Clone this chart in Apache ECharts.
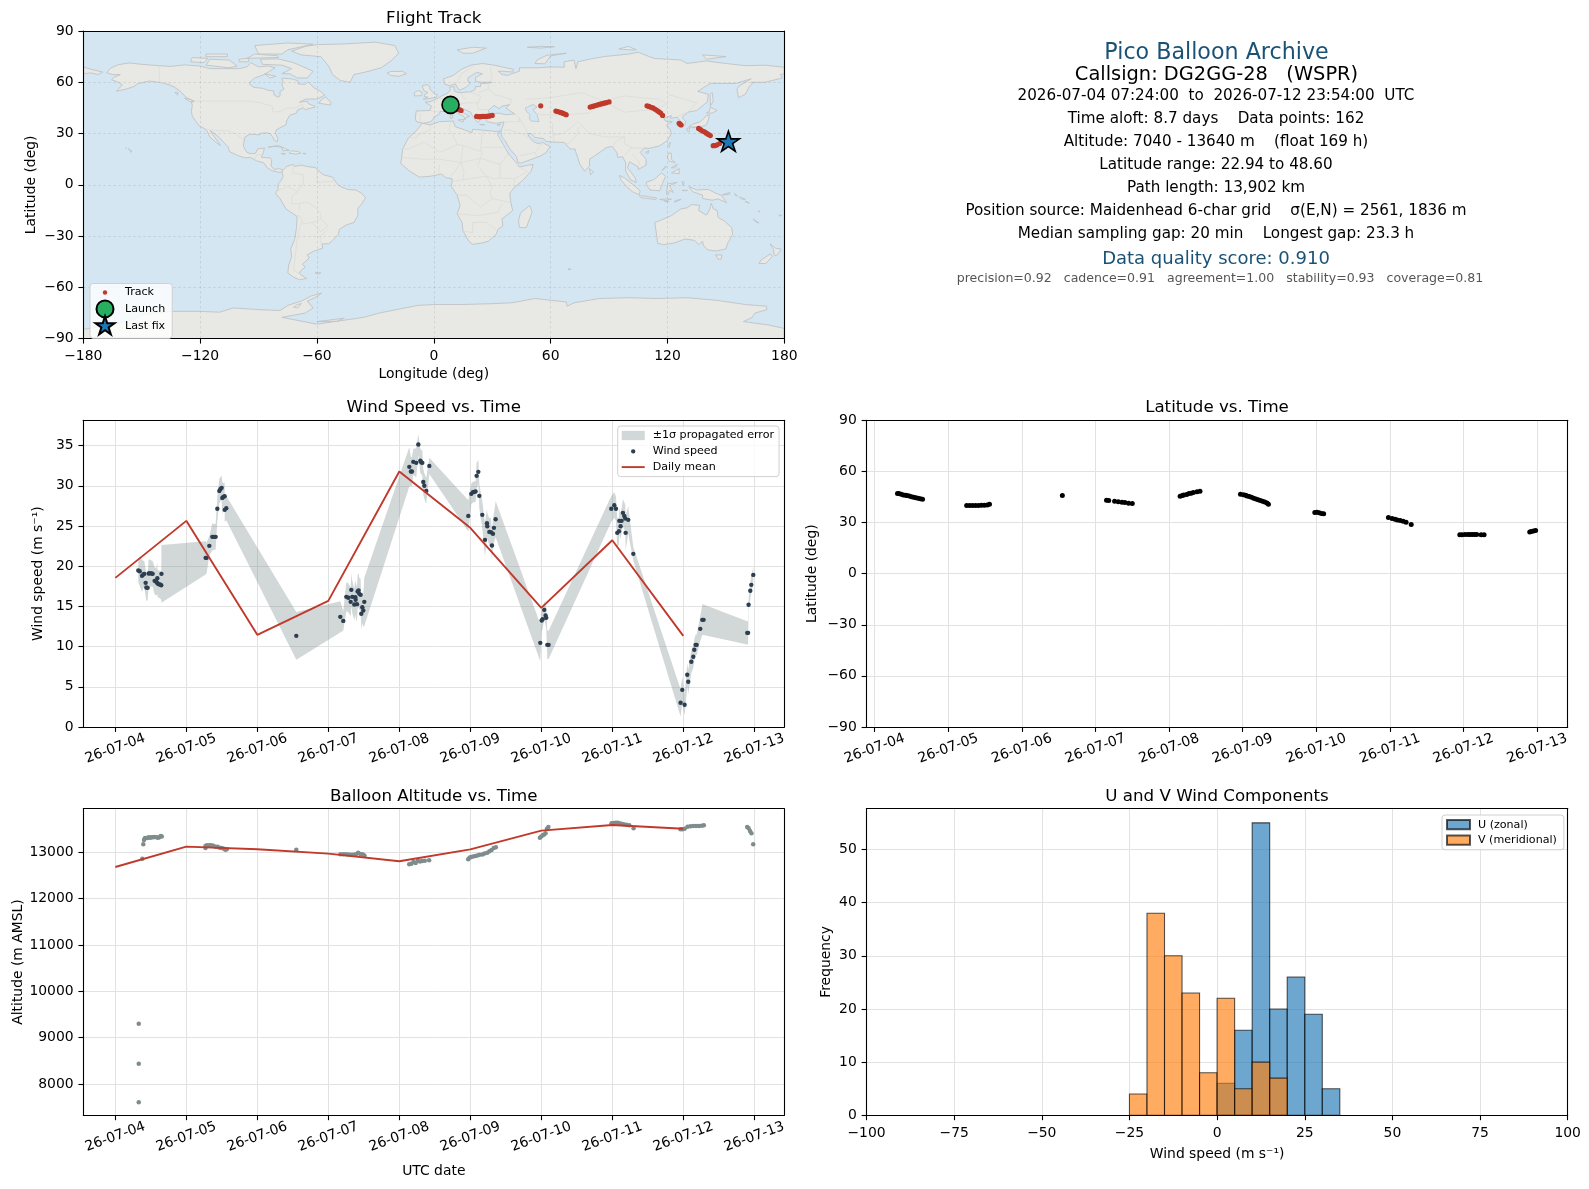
<!DOCTYPE html>
<html><head><meta charset="utf-8"><title>Pico Balloon Archive</title>
<style>html,body{margin:0;padding:0;background:#fff}#c{width:1589px;height:1189px}</style>
<script src="https://cdn.jsdelivr.net/npm/echarts@6/dist/echarts.min.js"></script>
</head><body><div id="c"></div>
<script>
// ---------- tick labels / categories ----------
const dayTickDays=[0,1,2,3,4,5,6,7,8,9];
const dayTickLabels=['26-07-04','26-07-05','26-07-06','26-07-07','26-07-08','26-07-09','26-07-10','26-07-11','26-07-12','26-07-13'];
const lonTicks=[-180,-120,-60,0,60,120,180];
const latTicks=[-90,-60,-30,0,30,60,90];
const windTicks=[0,5,10,15,20,25,30,35];
const altTicks=[8000,9000,10000,11000,12000,13000];
const histXTicks=[-100,-75,-50,-25,0,25,50,75,100];
const histYTicks=[0,10,20,30,40,50];
// ---------- flight track [lon,lat] ----------
const trackLon=[9,10,11,12,13,14,22,23,24,25,26,27,28,29,30,54.9,62.7,63.5,64.5,65.5,66.5,67.5,68,80.3,81.5,82.5,83.5,84.5,85.5,86.5,87.5,88.5,90,109.5,110.5,111.5,112.5,113.5,114.5,115.5,116.5,117.5,126,126.5,127,136,137,138,139,140,141,142,143.5,144.5,145.5,146.8];
const trackLat=[47,46.5,45.6,44.7,44,43.5,40,39.9,39.9,40,40,40,40.2,40.4,40.6,46.2,43.2,42.9,42.6,42.2,41.8,41.3,41,45.5,45.9,46.2,46.5,46.9,47.2,47.5,47.8,48.1,48.5,46.2,45.9,45.4,45,44.3,43.6,42.8,42,40.6,36,35.5,35,33,32.3,31.5,31,30.2,29.5,28.8,22.9,23,23.4,24.2];
const launchPoint=[8.6,46.8];
const lastFixPoint=[151.3,24.9];
// ---------- wind speed: days after 2026-07-04 00:00 UTC, m/s, propagated sigma ----------
const windDays=[.324,.343,.376,.394,.408,.427,.437,.455,.469,.488,.512,.526,.554,.577,.592,.593,.610,.629,.647,.650,
1.272,1.286,1.324,1.366,1.390,1.413,1.437,1.465,1.479,1.498,1.507,1.521,1.540,1.541,1.563,2.549,
3.169,3.211,3.254,3.282,3.315,3.324,3.338,3.366,3.380,3.385,3.404,3.413,3.427,3.437,3.455,3.465,3.479,3.493,3.507,
4.141,4.164,4.178,4.197,4.239,4.268,4.296,4.310,4.324,4.338,4.352,4.380,4.423,
4.972,5.014,5.038,5.056,5.075,5.089,5.113,5.127,5.169,5.207,5.235,5.239,5.268,5.291,5.305,5.319,5.333,5.357,
5.986,6.005,6.019,6.042,6.061,6.070,6.085,6.103,
6.986,7.028,7.052,7.070,7.094,7.099,7.117,7.131,7.150,7.169,7.183,7.188,7.225,7.296,
7.962,7.986,8.019,8.056,8.070,8.113,8.141,8.155,8.174,8.188,8.239,8.268,8.286,
8.901,8.913,8.920,8.944,8.958,8.986];
const windSpeed=[19.47,19.38,18.80,18.97,19.05,17.93,17.35,17.31,19.09,19.13,19.09,19.05,18.18,18.06,18.51,17.89,17.77,17.72,17.64,19.05,
21.04,21.04,22.53,23.65,23.65,23.65,27.14,29.37,29.58,29.75,28.50,28.63,28.71,27.01,27.22,11.34,
13.70,13.20,16.19,16.07,15.57,17.06,16.19,15.24,16.15,15.82,15.28,16.85,16.98,16.56,16.44,14.08,14.90,14.49,15.57,
32.36,31.78,31.78,32.98,32.86,35.14,33.11,32.94,32.86,30.49,30.00,29.37,32.48,
26.26,29.00,29.21,29.25,29.29,31.24,31.74,28.75,26.39,23.28,25.35,24.98,24.27,24.23,22.57,24.03,24.77,25.85,
10.47,13.25,13.41,14.57,13.87,13.58,10.22,10.22,
27.14,27.59,27.14,24.15,24.36,25.64,24.98,25.64,26.64,26.26,25.93,24.15,25.77,21.54,
3.01,4.62,2.76,6.49,5.62,8.11,8.73,9.60,10.22,10.22,12.21,13.33,13.33,
11.71,11.71,15.20,16.94,17.68,18.92];
const windSigma=[1.5,1.8,2.0,1.7,1.6,1.7,1.6,1.6,1.7,1.7,1.6,1.6,1.7,1.7,2.0,1.7,1.7,1.7,1.8,3.6,
2.07,1.9,1.2,1.7,1.6,1.6,1.5,1.5,1.5,1.5,2.0,1.7,1.7,1.5,1.5,2.96,
1.95,1.2,1.8,1.8,1.8,2.0,2.0,2.0,2.1,2.2,2.2,2.1,2.1,2.0,2.0,1.9,2.0,2.0,3.0,
2.45,1.8,1.8,1.6,1.8,1.3,1.5,1.5,1.6,1.6,1.6,1.6,1.0,
1.95,1.3,1.3,1.3,1.3,1.6,1.5,1.5,1.7,2.1,1.8,1.6,1.7,1.8,1.7,1.8,1.8,2.25,
2.3,1.4,1.2,1.1,1.2,1.3,1.75,1.75,
1.6,1.6,1.5,1.8,1.7,1.6,1.6,1.6,1.7,1.7,1.7,2.2,1.7,.85,
1.7,1.6,1.35,1.4,1.5,1.4,1.4,1.3,1.3,1.3,1.5,1.9,1.9,
1.45,1.45,.8,1.0,1.0,1.05];
const meanDays=[0,1,2,3,4,5,6,7,8];
const windMean=[18.55,25.64,11.46,15.69,31.78,24.77,14.82,23.23,11.34];
const altMean=[12683,13121,13064,12970,12806,13064,13466,13588,13509];
// ---------- latitude ----------
const latDays=[.31,.33,.36,.39,.42,.44,.47,.50,.53,.56,.59,.62,.65,1.25,1.29,1.33,1.37,1.41,1.45,1.49,1.53,1.56,2.55,3.15,3.18,3.26,3.31,3.36,3.4,3.45,3.5,4.15,4.18,4.2,4.24,4.27,4.3,4.33,4.38,4.42,4.97,5.01,5.04,5.06,5.09,5.12,5.15,5.18,5.21,5.24,5.27,5.3,5.33,5.35,5.98,6.01,6.04,6.07,6.1,6.98,7.03,7.07,7.1,7.14,7.18,7.22,7.29,7.95,7.98,8.02,8.06,8.09,8.12,8.15,8.18,8.24,8.28,8.9,8.92,8.95,8.98];
const latValues=[47,47,46.6,46.2,46,45.8,45.5,45.2,44.9,44.6,44.3,44,43.6,40,40,40,40,40,40.1,40.1,40.3,40.8,45.9,43.1,43,42.5,42.2,41.9,41.7,41.3,41.1,45.4,45.9,46.2,46.5,47,47.2,47.6,48,48.3,46.6,46.3,46,45.6,45.3,44.9,44.3,43.8,43.3,42.9,42.5,42,41.5,40.8,35.9,36,35.8,35.3,35.1,32.9,32.4,32,31.5,31.2,30.7,30.2,28.9,22.9,22.9,23,23,23,23,23,23,22.9,22.9,24.5,24.7,25,25.3];
// ---------- altitude ----------
const altDays=[.33,.33,.33,.38,.394,.404,.415,.427,.45,.47,.49,.51,.53,.55,.58,.6,.62,.64,.655,1.27,1.27,1.29,1.32,1.35,1.38,1.41,1.44,1.47,1.5,1.53,1.55,1.57,2.549,3.17,3.21,3.25,3.29,3.33,3.36,3.39,3.42,3.45,3.48,3.5,3.51,4.14,4.17,4.2,4.23,4.26,4.29,4.32,4.36,4.42,4.97,4.99,5.01,5.04,5.07,5.1,5.13,5.17,5.2,5.24,5.27,5.3,5.33,5.36,5.98,6.0,6.02,6.04,6.06,6.08,6.1,6.99,7.02,7.05,7.08,7.12,7.16,7.2,7.24,7.3,7.96,7.99,8.02,8.06,8.1,8.14,8.18,8.22,8.26,8.29,8.9,8.92,8.94,8.96,8.985];
const altValues=[9300,8440,7610,12863,13172,13265,13300,13308,13308,13322,13315,13322,13322,13330,13322,13315,13322,13351,13340,13093,13136,13150,13150,13150,13140,13121,13121,13100,13093,13075,13057,13064,13057,12956,12956,12956,12950,12949,12949,12960,12992,12963,12960,12935,12925,12741,12750,12791,12770,12820,12800,12810,12820,12830,12850,12880,12900,12910,12920,12930,12945,12950,12975,12990,13020,13050,13090,13110,13314,13340,13365,13385,13408,13509,13545,13624,13630,13638,13638,13620,13602,13595,13581,13516,13495,13495,13510,13552,13560,13566,13566,13566,13570,13581,13545,13516,13459,13408,13172];
// ---------- U and V histogram ----------
const histEdges=[-25,-20,-15,-10,-5,0,5,10,15,20,25,30,35];
const uCounts=[0,0,0,0,0,6,16,55,20,26,19,5];
const vCounts=[4,38,30,23,8,22,5,10,7,0,0,0];
// ---------- info panel ----------
const infoLines=[
 ['Pico Balloon Archive',53,22.2,'#1a5276',1216.5],
 ['Callsign: DG2GG-28   (WSPR)',75,19.4,'#000',1216.5],
 ['2026-07-04 07:24:00  to  2026-07-12 23:54:00  UTC',96,15.2,'#000',1216],
 ['Time aloft: 8.7 days    Data points: 162',119.5,15.2,'#000',1216],
 ['Altitude: 7040 - 13640 m    (float 169 h)',142.4,15.2,'#000',1216],
 ['Latitude range: 22.94 to 48.60',165.4,15.2,'#000',1216],
 ['Path length: 13,902 km',188.5,15.2,'#000',1216],
 ['Position source: Maidenhead 6-char grid    σ(E,N) = 2561, 1836 m',211.4,15.2,'#000',1216],
 ['Median sampling gap: 20 min    Longest gap: 23.3 h',234.3,15.2,'#000',1216],
 ['Data quality score: 0.910',259.4,18,'#1a5276',1216],
 ['precision=0.92   cadence=0.91   agreement=1.00   stability=0.93   coverage=0.81',278.6,12.55,'#555',1220]
];
// ---------- land outlines in lon/lat ----------
const landPolygons=[
 // North America
 [[-168,65.6],[-166,68.3],[-162,70.3],[-156.5,71.3],[-150,70.5],[-141,69.7],[-135,69.3],[-128,70.2],[-120,69.5],[-115,68],[-108,68],[-100,68],[-96,69],[-94,71.5],[-90,69],[-85,69.5],[-81.5,68.5],[-85,66],[-87,64.5],[-92,62.5],[-94.5,60],[-94.5,58.8],[-92.5,57],[-88,56.5],[-85,55.3],[-82.3,55],[-82,52.5],[-80,51.3],[-79,52],[-79,54.5],[-77,56],[-78,58.5],[-77.5,60.5],[-78,62.4],[-73,62],[-70,61],[-69.5,59],[-66,58.8],[-64.5,60.3],[-61.8,57],[-58,54.5],[-56,52.5],[-60,50.2],[-66,50.2],[-69,48.3],[-65,49],[-64.5,47.5],[-61,46],[-61,45.5],[-66,44],[-67,45],[-70,43.8],[-70.5,42],[-74,40.7],[-75.5,37.5],[-76,35],[-78,34],[-81,32],[-81.3,30],[-80,26.8],[-80.5,25.2],[-81.8,26],[-82.8,28],[-84,30],[-86,30.4],[-89,30.2],[-89.5,29.2],[-92,29.5],[-94.5,29.5],[-97,28],[-97.5,25],[-97.8,22.5],[-96,19],[-94,18.2],[-91.5,18.5],[-90.5,21],[-87,21.5],[-87.5,19],[-88.5,16],[-84,15.8],[-83.2,14.8],[-83.6,11],[-82,9],[-79.5,9.5],[-77.5,8.6],[-78,7.5],[-80,7.3],[-81,7.8],[-83,8.2],[-85.5,10],[-87.5,13],[-91,14],[-94,16],[-97,15.8],[-101,17.3],[-105,19.5],[-105.5,22],[-108,25],[-110,27.5],[-112.5,30],[-114.8,31.7],[-113,28.5],[-110.5,24.8],[-109.5,23],[-112,25],[-115,28],[-116.5,31.5],[-117.2,32.5],[-120.5,34.5],[-122,36.8],[-124,40],[-124.5,43],[-124,46.5],[-124.5,48.4],[-123,49],[-127,51],[-130,54.5],[-133,57],[-136,58.5],[-140,59.8],[-146,60.7],[-149,60],[-152,59.2],[-154,57.5],[-158,56],[-163,54.8],[-160,58.5],[-162,60],[-165.5,61.5],[-164,63],[-161,64.5],[-165,64.5]],
 // South America
 [[-77.5,8.6],[-75.5,10.8],[-72,12],[-71.5,10.8],[-68,11.5],[-64,10.5],[-61,10.2],[-57,6],[-52,4.5],[-50,1],[-48,-1],[-44,-2.8],[-40,-3],[-37,-5],[-35,-7.5],[-37,-11],[-39,-14],[-39,-18],[-41,-22],[-45,-23.5],[-48.5,-26],[-49,-29],[-52,-32.5],[-54,-34.5],[-57.5,-34.5],[-57,-37],[-62,-39],[-65,-41],[-64,-42.8],[-66,-45],[-67.5,-46.5],[-66,-48],[-69,-51],[-68.5,-52.5],[-65.2,-54.8],[-69,-55.5],[-72,-54],[-75,-51.5],[-74.5,-47],[-73,-42],[-73.5,-37.5],[-71.5,-32],[-70.5,-25],[-70.2,-18.5],[-76,-14],[-79,-8],[-81.3,-5],[-80,-2.5],[-80,.5],[-78.5,2.5],[-77.3,5],[-78,7.5]],
 // Greenland
 [[-73,78.2],[-66,81],[-60,82],[-45,82.5],[-30,83.5],[-20,81.5],[-18,77],[-22,72.5],[-27,68.5],[-35,66],[-41,64.5],[-43,60],[-48,61],[-52,64.5],[-54,69.5],[-58,75],[-68,76]],
 // Arctic Canada
 [[-80,73.7],[-72,71.5],[-67,69],[-62,66.5],[-65,62.5],[-70,62.5],[-74,65],[-78,65],[-73,68],[-78,70],[-88,70.5],[-89,73.5]],
 [[-117,70],[-105,68.5],[-101,69.5],[-105,73],[-115,73.5]],
 [[-125,72],[-118,71.5],[-116,74],[-124,74.5]],
 [[-90,76.5],[-78,76.5],[-75,79],[-62,82.3],[-75,83],[-92,81.5]],
 [[-96,74],[-80,74.5],[-80,75.5],[-92,76.5]],
 [[-117,75],[-106,75],[-106,76.5],[-117,76.5]],
 [[-100,72],[-95,72],[-95,74],[-100,73.5]],
 [[-87,65],[-81,63.5],[-84,62.5]],
 [[-59,47.7],[-53,46.7],[-52.8,48],[-55.5,51.5],[-57.5,50]],
 [[-128,50.7],[-125,50],[-123.5,48.5],[-125.5,48.8]],
 [[-133,54],[-131.5,54],[-131.5,52.5]],
 // Atlantic / Caribbean
 [[-24,65.5],[-22,64],[-18,63.5],[-14,65],[-16,66.4],[-22,66.3]],
 [[-85,22],[-80,23],[-74.2,20.2],[-77.5,19.9],[-78,22],[-82,22.5]],
 [[-74.3,18.5],[-73,19.9],[-69.5,19.5],[-68.4,18.5],[-71,18]],
 [[-78.3,18.4],[-76.3,18.2],[-77.2,17.8]],
 [[-67.2,18.4],[-65.7,18.4],[-66,18]],
 [[-61,-51.5],[-58,-51.4],[-59,-52.3]],
 // Hawaii
 [[-156,20.2],[-155,19.7],[-155.7,19]],
 [[-158.2,21.6],[-157.7,21.4],[-158,21.2]],
 [[-157,21],[-156,20.8],[-156.5,20.6]],
 // Eurasia
 [[-9,37],[-9.5,39],[-9,43.2],[-2,43.5],[-1.2,46],[-4.5,48.4],[-1.5,48.7],[1.5,50.3],[4,52],[7,53.5],[8.5,55.5],[8.2,57],[10.5,57.5],[10.5,55],[12,54.2],[14,54],[19,54.5],[21,55.5],[21.5,57.5],[24,57.5],[24,59.2],[28,59.5],[30,60],[25,60],[21.5,60.5],[21.5,63],[25,65],[22,65.8],[17.5,62.5],[17.5,60.5],[19,59.8],[16.5,57],[14.5,56],[13,55.4],[11,59],[8,58],[5.5,59],[5,62],[10,64],[14,67.5],[19,70],[25,71],[31,70],[41,67.5],[40.5,66],[35,66.5],[33,66.5],[35,64.5],[38,64],[40,65],[44,66.5],[44,68.5],[54,68.5],[60,69],[67,68.8],[67,72],[72,73],[73,68],[74,72],[80,73.5],[87,75],[100,76.5],[105,77.6],[113,74],[127,73],[130,71],[140,72.5],[150,71],[160,69.7],[170,70],[178,69],[180,68.9],[180,65],[178,64.5],[179,62.5],[170,60],[163,60],[164,59.8],[162,57.5],[160,53],[156.5,51],[155.7,56],[157,58],[163,62],[155,59.3],[142,59.3],[135.5,54.7],[141,53],[140.5,48.5],[135,43.5],[130.5,42.5],[127.5,39.5],[129.3,37],[129,35],[126.3,34.5],[126.5,37.5],[125,39.5],[121.5,39],[122,40.5],[118,39],[119,37.3],[122.5,37],[119.5,35],[121.5,32],[122,30],[120,26],[116,22.8],[110.5,21.3],[108,21.5],[106,19],[109,15],[109,11.5],[105,9],[105,10.5],[100.5,13.5],[99.5,10],[103.5,4],[104,1.3],[101,3],[98.5,8],[98.5,13],[97,16.5],[94.5,16],[94,19],[91.5,22.5],[88.5,21.7],[86.5,20],[82,16.5],[80,15],[80,11],[77.5,8],[75,12],[73,19],[72.5,21],[70,21],[67,24.8],[61.5,25],[57.5,25.5],[56.5,27],[52,27.7],[50,30],[48,30],[50,26.5],[51.5,25],[54,24],[56,25],[56.5,24.3],[59.7,22.5],[57.8,19],[55,17],[52,15.7],[45,12.8],[43.3,13],[42.5,16.5],[39,21],[36.5,26],[35,28],[34.5,31.5],[35.7,35],[36,36.8],[32,36],[30,36.3],[27.3,37],[26.5,39.5],[29,41],[33,42],[37,41],[41.5,41.5],[37,45],[39,47],[35,46],[33.5,44.5],[31,46.5],[28,43.5],[28.5,41.5],[26,40.8],[23,40.5],[24,38],[22.5,36.5],[21,38.5],[19.5,41],[19,42.5],[14,45],[12.3,45],[12.5,44],[16,41.5],[18.5,40],[16.5,39.5],[16,38],[15.5,40],[12,42],[10,44],[6,43],[3.2,43],[3,41.5],[0,39.5],[-.5,38],[-2,36.8],[-5.5,36]],
 // Chukotka past the date line
 [[-180,68.9],[-175,67.3],[-170,66],[-172.5,64.5],[-176,65.5],[-180,65]],
 // Africa
 [[-5.5,36],[-2,35],[3,37],[10,37.3],[11,34],[15,32.5],[19.5,30.5],[20,32.5],[25,32],[32,31.2],[34.5,31.5],[32.5,30],[34,27],[35.5,24],[37,21],[38.5,18],[43,12],[44,10.5],[51,12],[50,8],[46,3],[41,-2],[39,-5],[39.5,-10],[40.5,-15],[35,-20],[35.5,-24],[33,-26],[32,-29],[28,-33],[25,-34],[20,-34.8],[18,-33],[15,-27],[14.5,-22],[12,-17],[13.5,-12],[12,-6],[9,-1],[9.5,3.5],[6,4.3],[4,6.3],[-2,5],[-7.5,4.5],[-13,8.5],[-17,12.5],[-16.5,16],[-16,21],[-13,27.5],[-9.5,31],[-6,35.8]],
 [[49.3,-12],[50.5,-16],[47.5,-25],[44,-25],[43.5,-21],[44.5,-16.5]],
 // Europe islands and north
 [[-5.5,50],[1.3,51.2],[1.7,52.7],[0,53.5],[-2,56],[-2,57.5],[-3.5,58.6],[-6,58],[-5,55],[-3,54],[-4.5,53],[-5,51.7],[-3,51.3]],
 [[-10,52],[-6.2,52.2],[-6,54],[-8,55.2],[-10,54]],
 [[12,79],[20,80.5],[27,80],[20,77],[15,77]],
 [[52,71],[57,70.8],[60,75.5],[68,77],[58,75.8],[53,73]],
 [[48,80.5],[55,81],[62,80.8],[55,80]],
 [[8.5,41],[9.7,41],[9.5,39],[8.5,39]],
 [[12.5,38],[15.5,38.2],[15,36.7]],
 [[32.5,35],[34.5,35.6],[33.5,34.7]],
 [[23.5,35.5],[26.3,35.2],[24.5,34.9]],
 [[95,79.5],[100,79],[104,79],[100,81]],
 [[138,76],[145,75.5],[150,75],[140,73.5]],
 // East Asia islands
 [[131,34],[135.5,33.5],[140,35],[141,38],[141.5,41],[140,40.5],[137,37],[133,35.5]],
 [[140,42],[143,42],[145.5,43.5],[142,45.5],[141.5,43]],
 [[130,33],[131.5,33.5],[131,31],[130,31.5]],
 [[132.5,33.5],[134.5,34],[134,33.3]],
 [[142,46],[143.5,49],[143,54],[142,53],[142,49]],
 [[120,23],[121.5,25],[121,22]],
 [[108.7,19],[110.5,20],[110,18.3]],
 [[80,9.5],[82,7.5],[80.5,6]],
 [[120,16],[120.5,18.5],[122,18.5],[122,15],[124,13],[121,13.8]],
 [[122,7],[126,9.5],[126,6.5]],
 [[122,10],[125,12],[124,10]],
 [[117.2,8.4],[119.5,10.5],[119,11]],
 // Indonesia and Pacific
 [[109,1.5],[113,3],[117,7],[119,5],[117.5,1],[116,-3.5],[111,-3],[109.5,-.5]],
 [[95.3,5.5],[98,4],[103.5,-1],[106,-3.5],[105.5,-5.8],[102,-4],[99,-1],[96,3]],
 [[105.5,-6.5],[108,-6.5],[114.5,-7.7],[114,-8.6],[106.5,-7.5]],
 [[119.5,-5.5],[120,.5],[125,1.5],[121,-.5],[123,-4.5],[121,-3],[120.5,-5.5]],
 [[131,-1],[135,-3],[141,-2.7],[145,-5],[147.5,-6],[150.5,-10.5],[146,-8.2],[143,-9],[138,-8],[138,-6],[133,-4]],
 [[116,-8.5],[119,-8.3],[122,-8.3],[119,-9.2]],
 [[123.5,-10.2],[127,-8.5],[124,-9.2]],
 [[118.5,-9.5],[120.5,-9.5],[120,-10.2]],
 [[127.5,2],[128,-.5],[128.7,1.5]],
 [[127.5,-3.2],[130.5,-3.3],[128.5,-3.5]],
 [[148,-6],[152,-4.3],[152,-5.5]],
 [[154.5,-5],[156,-6.5],[155,-6.3]],
 [[157,-7],[160,-8.5],[158,-8.3]],
 [[160,-9.5],[162,-10.7],[160,-9.9]],
 [[166.5,-15],[167.5,-16],[167,-15.2]],
 [[164,-20],[167,-22.3],[165.5,-21.8]],
 [[177.3,-17.5],[178.7,-18],[177.5,-18.2]],
 // Australia and NZ
 [[113.5,-22],[114,-26],[115,-34.2],[118,-35],[123.5,-34],[129,-31.7],[134,-32.5],[136,-35],[138,-33],[138.5,-35.5],[140.5,-38],[145,-38.7],[150,-37.5],[151,-34],[153.5,-29],[153,-25],[149,-21],[146,-19],[145.5,-15],[143.5,-14],[142.5,-10.8],[141.5,-15],[140,-17.7],[136,-15],[136.5,-12],[132.5,-11.5],[130,-13.5],[127,-14],[122,-18],[117,-20.5]],
 [[144.7,-41],[148,-41],[147.5,-43.5],[146,-43.5]],
 [[172.7,-34.5],[175.5,-37],[178.5,-37.7],[176,-41.5],[174.8,-41],[174.5,-38]],
 [[172.7,-40.5],[174,-41.7],[170.5,-46],[167,-46],[168,-44]],
 [[69,-49],[70.5,-49.3],[69.3,-49.8]],
 // Antarctica
 [[-180,-90],[-180,-84.5],[-165,-82],[-155,-79],[-150,-76],[-135,-74],[-120,-74],[-110,-74.5],[-103,-72],[-90,-73],[-79,-73.5],[-75,-70.5],[-68,-68],[-63,-65],[-57.5,-63.3],[-61,-66],[-65,-68],[-62,-72],[-66,-75],[-78,-77.5],[-60,-81.5],[-45,-79],[-36,-77.5],[-28,-75],[-17,-72.5],[-8,-70.5],[0,-70],[15,-70],[30,-69.5],[40,-69],[52,-66.5],[60,-67.5],[68,-68.5],[68.5,-71],[72,-69],[85,-66.5],[100,-66],[115,-66.5],[130,-66],[145,-67.5],[160,-70],[171,-71],[171,-73],[165,-75],[163.5,-77.6],[159,-80],[172,-82],[180,-84],[180,-90]],
 [[-70,-70],[-68,-69.5],[-70,-72],[-72,-71.5]],
 [[-60,-80],[-46,-78],[-50,-79.8]]
];
const waterPolygons=[[[47,45],[51,47],[53,45.5],[51,44],[53,41],[54,37],[50,37.3],[49,39],[49.5,41],[47.5,43]]];
const borderLines=[
 [[-123,49],[-95,49],[-89,48],[-83,46],[-82.5,42.5],[-79,43],[-75,45],[-71,45],[-67.5,47],[-67,45]],
 [[-141,69.7],[-141,60],[-135,59],[-130,55]],
 [[-117,32.5],[-108,31.5],[-106,31.7],[-101,29.5],[-97.5,26]],
 [[-92,14.7],[-91,17.5],[-89,17.8],[-88.5,16]],
 [[-72,12],[-72.5,7],[-67,6],[-67,1],[-70,-4]],
 [[-70,-4],[-73,-7],[-73,-11],[-69,-11],[-69,-15]],
 [[-69,-11],[-65,-10],[-60,-14],[-58,-17],[-58,-20],[-62.5,-22],[-67,-23],[-69,-18],[-70,-18]],
 [[-68,-22],[-70,-30],[-71,-40],[-72,-50],[-69,-52]],
 [[-58,-20],[-54.5,-24],[-58,-27.5],[-62.5,-22]],
 [[-54.5,-26],[-58,-30],[-58,-34]],
 [[-60,8],[-60,1.5],[-52,2],[-51.5,4.3]],
 [[-80,-3.5],[-75,-1],[-70,-4]],
 [[-13,27.5],[-8.7,27.5],[-8.7,29],[-2,32],[-1.5,35]],
 [[8.5,37],[8,32],[9.5,30],[12,23.5],[15,23],[24,19.5],[25,32]],
 [[25,20],[24,15.5],[22.5,11],[27,5],[31,3.5],[34,4],[41.5,3.5],[41,-1.5]],
 [[25,22],[37,22]],
 [[-17,21],[-13,21],[-5,25],[3,19],[12,23.5]],
 [[-16.5,16],[-5,15],[3,15],[14,13],[24,15.5]],
 [[2.5,6.3],[3,12]],[[14,13],[8.5,4.5]],
 [[15,23],[14,13],[15.5,7.5],[15,3],[9.5,2]],
 [[15,3],[18,3.5],[27,5],[30,-1],[29,-5],[30,-8],[39.5,-10.5]],
 [[12,-6],[17,-6],[22,-11],[24,-13],[30,-8]],
 [[12,-17],[23,-18],[33,-16],[35,-11]],
 [[15,-27],[20,-28],[20,-22],[27,-22],[32,-26]],
 [[34,12],[36,15],[38,18]],[[34,4],[34,12],[24,15.5]],[[41.5,3.5],[48,8],[43,11]],
 [[-2,43.5],[3,42.5]],[[-7,42],[-7,37]],[[2.5,51],[8,49],[7,44]],[[7,47.5],[13,47],[17,48],[23,48],[24,52],[18,54.5]],
 [[14,54],[15,51],[17,50]],[[13,47],[14,45.5]],[[22,48],[23,44],[28,44]],
 [[28,59.5],[28,56],[31,53],[40,50],[39,47]],[[23,54],[28,56]],[[29,69],[30,62],[28,60]],[[20,69],[14,65],[12,60],[11,59]],
 [[47,50],[60,51],[76,54],[87,49],[80,42],[68,41],[55,41],[53,42]],
 [[87,49],[98,42.5],[112,44],[120,47],[116,50],[98,52],[87,49]],
 [[120,53],[135,48],[131,43]],[[74,37],[80,30],[88,28],[98,28],[98,24],[102,21.5],[108,21.5]],[[125,40],[130.5,42.5]],
 [[44,39],[46,35],[48.5,30]],[[61,36],[61,30],[62,25]],[[74,37],[70,33],[66,30],[61,29]],[[74,34],[74,30],[70,25],[68,24]],
 [[36,32],[39,32],[47,29],[48,28],[56,24.5],[52,19],[53,16.5]],[[44,17],[52,19]],
 [[92,22],[93,25],[98,28]],[[98,17],[100,20],[102,22]],[[102,18],[105,14],[106,11]],[[36,36.8],[44,37],[44,39],[41.5,41.5]]
];

const FONT='"DejaVu Sans"';
const T0=Date.UTC(2026,6,4);
const toMs=d=>T0+d*864e5;
const dayTicksMs=dayTickDays.map(toMs);
const dayLabel=v=>{const i=dayTicksMs.indexOf(v);return i>=0?dayTickLabels[i]:'';};
const numLabel=v=>String(v).replace('-','\u2212');
const zip=(a,b)=>a.map((x,i)=>[x,b[i]]);
const zipT=(a,b)=>a.map((x,i)=>[toMs(x),b[i]]);

const STAR='path://M0 1000L0 1000M0 -1000L225 -309L951 -309L363 118L588 809L0 382L-588 809L-363 118L-951 -309L-225 -309Z';
const iconStar='path://M-1100 -1100L-1100 -1100M1100 1100L1100 1100M0 -1000L225 -309L951 -309L363 118L588 809L0 382L-588 809L-363 118L-951 -309L-225 -309Z';
const iconCircle='path://M0 0L0 0M220 220L220 220M110 25a85 85 0 1 0 .01 0z';
const iconDotTrack='path://M0 0L0 0M220 220L220 220M110 88a22 22 0 1 0 .01 0z';
const iconDotWind='path://M0 0L0 0M230 93L230 93M115 25a22 22 0 1 0 .01 0z';
const iconLine='path://M0 0L0 0M230 93L230 93M0 37H230V56H0Z';

const gridLine={show:true,lineStyle:{color:'#e2e2e2',width:1}};
const mapGridLine={show:true,lineStyle:{color:'rgba(120,120,120,0.24)',width:.8,type:[2.5,2.5]}};
const lbl=(extra)=>Object.assign({fontFamily:FONT,fontSize:13.9,color:'#000',margin:9.7,hideOverlap:false,formatter:numLabel},extra||{});
const axisBase=(gi,ticks,name,gap,min,max,split,labelExtra)=>({
 type:'value',gridIndex:gi,min,max,z:10,name,nameLocation:'middle',nameGap:gap,
 nameTextStyle:{fontFamily:FONT,fontSize:13.9,color:'#000'},
 axisLine:{show:true,onZero:false,lineStyle:{color:'#000',width:1.1}},
 axisTick:{show:true,length:4.9,inside:false,customValues:ticks,lineStyle:{color:'#000',width:1.1}},
 axisLabel:lbl(Object.assign({customValues:ticks},labelExtra||{})),
 splitLine:split
});
const timeAxis=(gi,name,gap,minD,maxD)=>axisBase(gi,dayTicksMs,name,gap,toMs(minD),toMs(maxD),gridLine,{
 rotate:20,align:'center',verticalAlign:'middle',margin:21.5,formatter:dayLabel});
const edgeX=gi=>({type:'value',gridIndex:gi,position:'top',min:0,max:1,z:10,axisLine:{show:true,onZero:false,lineStyle:{color:'#000',width:1.1}},axisTick:{show:false},axisLabel:{show:false},splitLine:{show:false}});
const edgeY=gi=>({type:'value',gridIndex:gi,position:'right',min:0,max:1,z:10,axisLine:{show:true,onZero:false,lineStyle:{color:'#000',width:1.1}},axisTick:{show:false},axisLabel:{show:false},splitLine:{show:false}});

const grids=[
 {left:83.3,top:31,width:701,height:307.7,backgroundColor:'#d4e6f1'},
 {left:83.3,top:420.3,width:701,height:306.7},
 {left:866.5,top:420.3,width:701.2,height:306.7},
 {left:83.3,top:808.7,width:701,height:306.6},
 {left:866.5,top:808.5,width:701.2,height:306.8}
].map(g=>Object.assign({show:true,borderColor:'#000',borderWidth:0,containLabel:false},g));

const xTick={margin:11};
const xAxes=[
 axisBase(0,lonTicks,'Longitude (deg)',29,-180,180,mapGridLine,xTick),
 timeAxis(1,'',0,-.451,9.423),
 timeAxis(2,'',0,-.111,9.416),
 timeAxis(3,'UTC date',49.5,-.451,9.423),
 axisBase(4,histXTicks,'Wind speed (m s⁻¹)',32,-100,100,gridLine,xTick),
 edgeX(0),edgeX(1),edgeX(2),edgeX(3),edgeX(4)
];
const yAxes=[
 axisBase(0,latTicks,'Latitude (deg)',45,-90,90,mapGridLine),
 axisBase(1,windTicks,'Wind speed (m s⁻¹)',38,0,38.15,gridLine),
 axisBase(2,latTicks,'Latitude (deg)',47.5,-90,90,gridLine),
 axisBase(3,altTicks,'Altitude (m AMSL)',58,7327,13940,gridLine),
 axisBase(4,histYTicks,'Frequency',33.5,0,57.7,gridLine),
 edgeY(0),edgeY(1),edgeY(2),edgeY(3),edgeY(4)
];

function polyItem(list,style){
 return function(params,api){
  const pts=list[params.dataIndex].map(p=>api.coord(p));
  return {type:'polygon',shape:{points:pts},style:style,silent:true};
 };
}
function barItem(edges,counts,style){
 return function(params,api){
  const i=params.dataIndex;
  if(!counts[i]) return null;
  const a=api.coord([edges[i],0]),b=api.coord([edges[i+1],counts[i]]);
  return {type:'rect',shape:{x:a[0],y:b[1],width:b[0]-a[0],height:a[1]-b[1]},style:style};
 };
}
const bandPts=windDays.map((d,i)=>[toMs(d),windSpeed[i]+windSigma[i]]).concat(
 windDays.map((d,i)=>[toMs(d),windSpeed[i]-windSigma[i]]).reverse());

const series=[
 {type:'custom',name:'land',coordinateSystem:'cartesian2d',xAxisIndex:0,yAxisIndex:0,z:5,clip:true,silent:true,
  data:landPolygons.map(()=>[0,0]),renderItem:polyItem(landPolygons,{fill:'#e8e8e4',stroke:'#bfc3c5',lineWidth:.9})},
 {type:'custom',name:'water',coordinateSystem:'cartesian2d',xAxisIndex:0,yAxisIndex:0,z:6,clip:true,silent:true,
  data:waterPolygons.map(()=>[0,0]),renderItem:polyItem(waterPolygons,{fill:'#d4e6f1',stroke:'#bfc3c5',lineWidth:.8})},
 {type:'custom',name:'borders',coordinateSystem:'cartesian2d',xAxisIndex:0,yAxisIndex:0,z:7,clip:true,silent:true,
  data:borderLines.map(()=>[0,0]),renderItem:function(params,api){
    return {type:'polyline',shape:{points:borderLines[params.dataIndex].map(p=>api.coord(p))},style:{stroke:'#dadad6',lineWidth:.7,fill:null},silent:true};
  }},
 {type:'scatter',name:'Track',xAxisIndex:0,yAxisIndex:0,z:20,symbolSize:5.2,itemStyle:{color:'#c0392b',opacity:1},data:zip(trackLon,trackLat),silent:true},
 {type:'scatter',name:'Launch',xAxisIndex:0,yAxisIndex:0,z:21,symbol:'circle',symbolSize:17,itemStyle:{color:'#27ae60',borderColor:'#000',borderWidth:1.6,opacity:1},data:[launchPoint],silent:true},
 {type:'scatter',name:'Last fix',xAxisIndex:0,yAxisIndex:0,z:22,symbol:STAR,symbolSize:22,itemStyle:{color:'#1f77b4',borderColor:'#000',borderWidth:1.6,opacity:1},data:[lastFixPoint],silent:true},

 {type:'custom',name:'±1σ propagated error',coordinateSystem:'cartesian2d',xAxisIndex:1,yAxisIndex:1,z:15,clip:true,silent:true,
  itemStyle:{color:'#7f8c8d',opacity:.35},data:[[toMs(0),0]],
  renderItem:function(p,api){return {type:'polygon',shape:{points:bandPts.map(q=>api.coord(q))},style:{fill:'#7f8c8d',opacity:.35}};}},
 {type:'scatter',name:'Wind speed',xAxisIndex:1,yAxisIndex:1,z:20,symbolSize:4.4,itemStyle:{color:'#2c3e50',opacity:1},data:zipT(windDays,windSpeed),silent:true},
 {type:'line',name:'Daily mean',xAxisIndex:1,yAxisIndex:1,z:21,symbol:'none',lineStyle:{color:'#c0392b',width:1.9},itemStyle:{color:'#c0392b'},data:zipT(meanDays,windMean),silent:true},

 {type:'scatter',name:'Latitude',xAxisIndex:2,yAxisIndex:2,z:20,symbolSize:5,itemStyle:{color:'#000',opacity:1},data:zipT(latDays,latValues),silent:true},

 {type:'scatter',name:'Altitude',xAxisIndex:3,yAxisIndex:3,z:20,symbolSize:4.5,itemStyle:{color:'#7f8c8d',opacity:1},data:zipT(altDays,altValues),silent:true},
 {type:'line',name:'Daily mean altitude',xAxisIndex:3,yAxisIndex:3,z:21,symbol:'none',lineStyle:{color:'#c0392b',width:1.9},data:zipT(meanDays,altMean),silent:true},

 {type:'custom',name:'U (zonal)',coordinateSystem:'cartesian2d',xAxisIndex:4,yAxisIndex:4,z:20,silent:true,clip:true,
  itemStyle:{color:'#1f77b4',opacity:.65,borderColor:'#000',borderWidth:.9},data:uCounts.map(()=>[0,0]),
  renderItem:barItem(histEdges,uCounts,{fill:'#1f77b4',stroke:'#000',lineWidth:1.1,opacity:.65})},
 {type:'custom',name:'V (meridional)',coordinateSystem:'cartesian2d',xAxisIndex:4,yAxisIndex:4,z:21,silent:true,clip:true,
  itemStyle:{color:'#ff7f0e',opacity:.65,borderColor:'#000',borderWidth:.9},data:vCounts.map(()=>[0,0]),
  renderItem:barItem(histEdges,vCounts,{fill:'#ff7f0e',stroke:'#000',lineWidth:1.1,opacity:.65})}
];

const legendBase={orient:'vertical',selectedMode:false,backgroundColor:'rgba(255,255,255,0.8)',borderColor:'#d0d0d0',borderWidth:1,borderRadius:3,z:30,
 textStyle:{fontFamily:FONT,fontSize:11.1,color:'#000'}};
const legends=[
 Object.assign({},legendBase,{left:90,top:283.5,padding:[-2,7,0,3],itemWidth:22,itemHeight:22,itemGap:-6.6,
  textStyle:{fontFamily:FONT,fontSize:11.1,color:'#000',padding:[0,0,0,4]},
  data:[{name:'Track',icon:iconDotTrack,itemStyle:{borderWidth:0}},{name:'Launch',icon:iconCircle},{name:'Last fix',icon:iconStar}]}),
 Object.assign({},legendBase,{left:617.7,top:426,padding:[4,5,4,4],itemWidth:23,itemHeight:9.3,itemGap:4.8,
  textStyle:{fontFamily:FONT,fontSize:11.1,color:'#000',padding:[0,0,0,3]},
  data:[{name:'±1σ propagated error',icon:'rect'},{name:'Wind speed',icon:iconDotWind},{name:'Daily mean',icon:iconLine,itemStyle:{color:'#c0392b'}}]}),
 Object.assign({},legendBase,{left:1442,top:815,padding:[4,7,4,4],itemWidth:23,itemHeight:9.3,itemGap:4.2,
  textStyle:{fontFamily:FONT,fontSize:11.1,color:'#000',padding:[0,0,0,3]},
  data:[{name:'U (zonal)',icon:'rect'},{name:'V (meridional)',icon:'rect'}]})
];

const titleTexts=[['Flight Track',433.8,20.4],['Wind Speed vs. Time',433.8,408.7],['Latitude vs. Time',1217,408.7],['Balloon Altitude vs. Time',433.8,797.7],['U and V Wind Components',1217,797.7]];

const option={
 animation:false,backgroundColor:'#fff',useUTC:true,
 title:titleTexts.map(t=>({text:t[0],left:t[1],top:t[2]-10,padding:0,textAlign:'center',textStyle:{fontFamily:FONT,fontSize:16.67,fontWeight:'normal',color:'#000'}})),
 grid:grids,xAxis:xAxes,yAxis:yAxes,series,legend:legends,
 graphic:infoLines.map(l=>({type:'text',x:l[4],y:l[1],silent:true,style:{text:l[0],fill:l[3],font:l[2]+'px '+FONT,textAlign:'center',textVerticalAlign:'middle'}}))
};
const chart=echarts.init(document.getElementById('c'),null,{width:1589,height:1189});
chart.setOption(option);
</script></body></html>
